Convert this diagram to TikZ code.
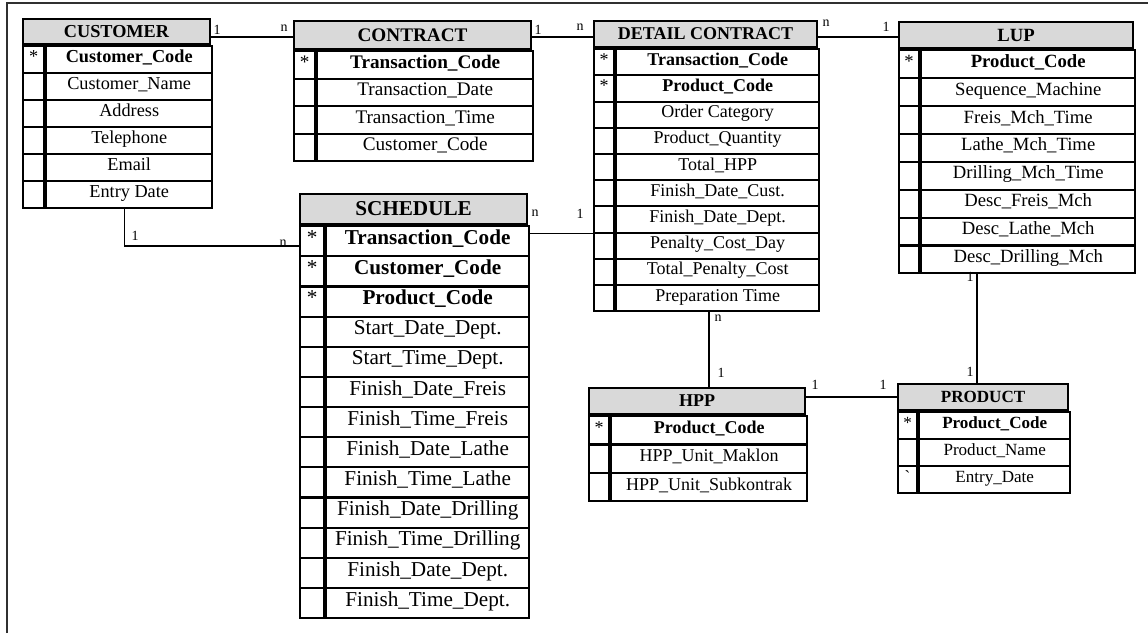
\documentclass[tikz,border=0pt]{standalone}
\usepackage{fontspec}
\setmainfont{Liberation Serif}
\usepackage{tikz}
\usetikzlibrary{positioning}

\newcommand{\px}{0.75pt}
\definecolor{hdrgray}{HTML}{D9D9D9}
\definecolor{framegray}{HTML}{303030}

\tikzset{
  tblhead/.style={rectangle, draw, line width=1.6pt, fill=hdrgray, inner sep=0pt, anchor=north west},
  keycell/.style={rectangle, draw, line width=1.6pt, inner sep=0pt, anchor=north west, text height=0.68em, text depth=0.22em},
  fieldcell/.style={rectangle, draw, line width=1.6pt, inner sep=0pt, anchor=north west, text height=0.68em, text depth=0.22em},
  rel/.style={line width=1.2pt},
  card/.style={font=\fontsize{10.5}{12}\selectfont, inner sep=0pt}
}

\begin{document}
\begin{tikzpicture}[x=0.75pt, y=-0.75pt]
  \useasboundingbox (0,0) rectangle (1148,633);
  \draw[framegray, line width=1.5pt] (7,633) -- (7,3) -- (1148,3);

  % customer
  \begin{scope}[font=\fontsize{13.7}{16}\selectfont]
    \node[tblhead, minimum width=187*\px, minimum height=25*\px] (customer) at (22,18) {\textbf{CUSTOMER}};
    \foreach \k/\f [count=\i] in {*/\textbf{Customer\_Code}, /Customer\_Name, /Address, /Telephone, /Email, /Entry Date} {
      \node[keycell, minimum width=21*\px, minimum height=27*\px] (customer-k\i) at ([yshift={-(\i-1)*27*\px}]customer.south west) {\k};
      \node[fieldcell, minimum width=166*\px, minimum height=27*\px] (customer-\i) at (customer-k\i.north east) {\f};
    }
  \end{scope}

  % contract
  \begin{scope}[font=\fontsize{14.4}{17}\selectfont]
    \node[tblhead, minimum width=237*\px, minimum height=28*\px] (contract) at (293,20) {\textbf{CONTRACT}};
    \foreach \k/\f [count=\i] in {*/\textbf{Transaction\_Code}, /Transaction\_Date, /Transaction\_Time, /Customer\_Code} {
      \node[keycell, minimum width=21*\px, minimum height=27.5*\px] (contract-k\i) at ([yshift={-(\i-1)*27.5*\px}]contract.south west) {\k};
      \node[fieldcell, minimum width=216*\px, minimum height=27.5*\px] (contract-\i) at (contract-k\i.north east) {\f};
    }
  \end{scope}

  % detail contract
  \begin{scope}[font=\fontsize{13.5}{16}\selectfont]
    \node[tblhead, minimum width=223*\px, minimum height=26*\px] (detail) at (593,20) {\textbf{DETAIL CONTRACT}};
    \foreach \k/\f [count=\i] in {*/\textbf{Transaction\_Code}, */\textbf{Product\_Code}, /Order Category, /Product\_Quantity, /Total\_HPP, /Finish\_Date\_Cust., /Finish\_Date\_Dept., /Penalty\_Cost\_Day, /Total\_Penalty\_Cost, /Preparation Time} {
      \node[keycell, minimum width=20*\px, minimum height=26.2*\px] (detail-k\i) at ([yshift={-(\i-1)*26.2*\px}]detail.south west) {\k};
      \node[fieldcell, minimum width=203*\px, minimum height=26.2*\px] (detail-\i) at (detail-k\i.north east) {\f};
    }
  \end{scope}

  % lup
  \begin{scope}[font=\fontsize{14}{17}\selectfont]
    \node[tblhead, minimum width=234*\px, minimum height=26*\px] (lup) at (898,21) {\textbf{LUP}};
    \foreach \k/\f [count=\i] in {*/\textbf{Product\_Code}, /Sequence\_Machine, /Freis\_Mch\_Time, /Lathe\_Mch\_Time, /Drilling\_Mch\_Time, /Desc\_Freis\_Mch, /Desc\_Lathe\_Mch, /Desc\_Drilling\_Mch} {
      \node[keycell, minimum width=20*\px, minimum height=27.9*\px] (lup-k\i) at ([yshift={-(\i-1)*27.9*\px}]lup.south west) {\k};
      \node[fieldcell, minimum width=214*\px, minimum height=27.9*\px] (lup-\i) at (lup-k\i.north east) {\f};
    }
  \end{scope}

  % schedule
  \begin{scope}[font=\fontsize{15.9}{19}\selectfont]
    \node[tblhead, minimum width=227*\px, minimum height=30*\px] (schedule) at (299,193) {\textbf{SCHEDULE}};
    \foreach \k/\f [count=\i] in {*/\textbf{Transaction\_Code}, */\textbf{Customer\_Code}, */\textbf{Product\_Code}, /Start\_Date\_Dept., /Start\_Time\_Dept., /Finish\_Date\_Freis, /Finish\_Time\_Freis, /Finish\_Date\_Lathe, /Finish\_Time\_Lathe, /Finish\_Date\_Drilling, /Finish\_Time\_Drilling, /Finish\_Date\_Dept., /Finish\_Time\_Dept.} {
      \node[keycell, minimum width=24*\px, minimum height=30.15*\px] (schedule-k\i) at ([yshift={-(\i-1)*30.15*\px}]schedule.south west) {\k};
      \node[fieldcell, minimum width=203*\px, minimum height=30.15*\px] (schedule-\i) at (schedule-k\i.north east) {\f};
    }
  \end{scope}

  % hpp
  \begin{scope}[font=\fontsize{13.5}{16}\selectfont]
    \node[tblhead, minimum width=216*\px, minimum height=26*\px] (hpp) at (588,387) {\textbf{HPP}};
    \foreach \k/\f [count=\i] in {*/\textbf{Product\_Code}, /HPP\_Unit\_Maklon, /HPP\_Unit\_Subkontrak} {
      \node[keycell, minimum width=20*\px, minimum height=28.3*\px] (hpp-k\i) at ([yshift={-(\i-1)*28.3*\px}]hpp.south west) {\k};
      \node[fieldcell, minimum width=196*\px, minimum height=28.3*\px] (hpp-\i) at (hpp-k\i.north east) {\f};
    }
  \end{scope}

  % product
  \begin{scope}[font=\fontsize{12.8}{15}\selectfont]
    \node[tblhead, minimum width=170*\px, minimum height=26*\px] (product) at (897,383) {\textbf{PRODUCT}};
    \foreach \k/\f [count=\i] in {*/\textbf{Product\_Code}, /Product\_Name, \textasciigrave/Entry\_Date} {
      \node[keycell, minimum width=19*\px, minimum height=27*\px] (product-k\i) at ([yshift={-(\i-1)*27*\px}]product.south west) {\k};
      \node[fieldcell, minimum width=151*\px, minimum height=27*\px] (product-\i) at (product-k\i.north east) {\f};
    }
  \end{scope}

  % relations
  \coordinate (toprow) at (0,37);
  \coordinate (dhline) at (709,0);
  \coordinate (lpline) at (977,0);
  \draw[rel] (customer.east |- toprow) -- (contract.west |- toprow);
  \draw[rel] (contract.east |- toprow) -- (detail.west |- toprow);
  \draw[rel] (detail.east |- toprow) -- (lup.west |- toprow);
  \draw[rel] ([xshift=-3.4pt]customer-6.south) |- ([yshift=-3.75pt]schedule-k1.west);
  \draw[rel] (detail-k7.south west -| schedule-1.east) -- (detail-k7.south west);
  \draw[rel] (detail-10.south -| dhline) -- (hpp.north -| dhline);
  \draw[rel] (hpp.east |- product.west) -- (product.west);
  \draw[rel] (lup-8.south -| lpline) -- (product.north -| lpline);

  % cardinalities
  \node[card] (cc1) at (217,30) {1};
  \node[card] (ccn) at (284,28) {n};
  \node[card] (cd1) at (538,30) {1};
  \node[card] (cdn) at (580,27) {n};
  \node[card] (dln) at (826,23) {n};
  \node[card] (dl1) at (886,27) {1};
  \node[card] (cs1) at (135,236) {1};
  \node[card] (csn) at (283,243) {n};
  \node[card] (sdn) at (535,213) {n};
  \node[card] (sd1) at (580,214) {1};
  \node[card] (dhn) at (718,318) {n};
  \node[card] (dh1) at (721,373) {1};
  \node[card] (hp1) at (815,385) {1};
  \node[card] (hp2) at (883,385) {1};
  \node[card] (lp1) at (970,277) {1};
  \node[card] (lp2) at (970,372) {1};
\end{tikzpicture}
\end{document}
